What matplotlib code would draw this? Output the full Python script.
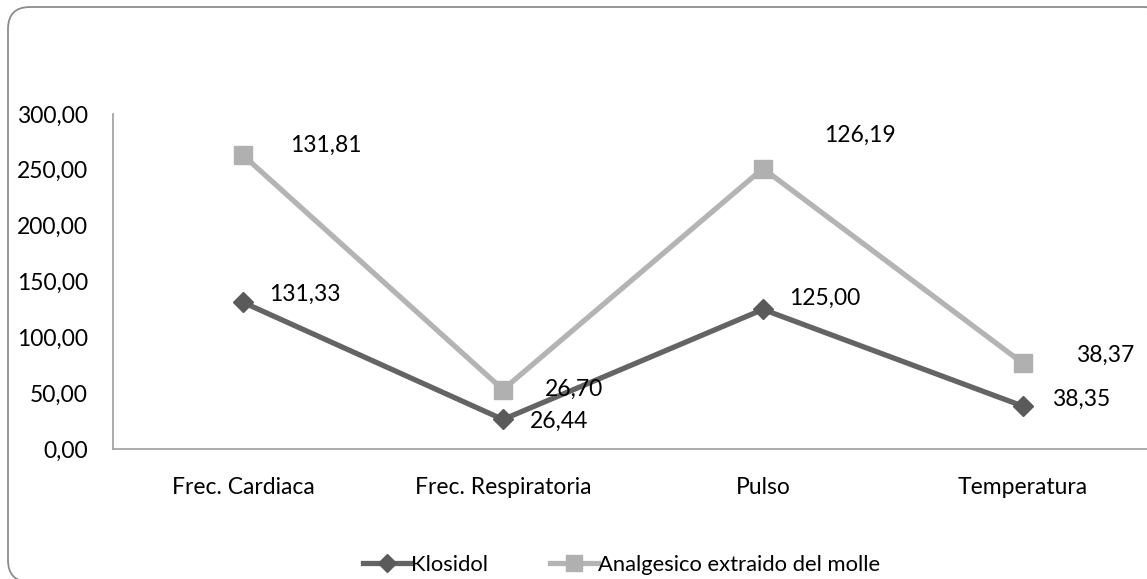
import matplotlib
matplotlib.use("Agg")
import matplotlib.pyplot as plt
from matplotlib.patches import FancyBboxPatch
from matplotlib.transforms import IdentityTransform
from matplotlib.ticker import FuncFormatter

plt.rcParams['font.family'] = ['Lato', 'DejaVu Sans']

# datos
categorias = ["Frec. Cardiaca", "Frec. Respiratoria", "Pulso", "Temperatura"]
klosidol = [131.33, 26.44, 125.00, 38.35]
analgesico = [131.81, 26.70, 126.19, 38.37]
serie1 = "Klosidol"
serie2 = "Analgesico extraido del molle"

# linea apilada (como en Excel)
apilado = [a + b for a, b in zip(klosidol, analgesico)]

def coma(v, pos=None):
    return ("%.2f" % v).replace(".", ",")

fs = 16.5
fig = plt.figure(figsize=(11.47, 5.79), dpi=100)
ax = fig.add_axes([113/1147, 1 - 449/579, 1040/1147, 335/579])

x = list(range(len(categorias)))
ax.plot(x, klosidol, color="#646464", lw=3.8, marker="D", ms=10,
        mfc="#5a5a5a", mec="#5a5a5a", label=serie1, zorder=3)
ax.plot(x, apilado, color="#b4b4b4", lw=3.8, marker="s", ms=13,
        mfc="#b0b0b0", mec="#b0b0b0", label=serie2, zorder=3)

ax.set_xlim(-0.5, len(categorias) - 0.5)
ax.set_ylim(0, 300)
ax.set_yticks([0, 50, 100, 150, 200, 250, 300])
ax.yaxis.set_major_formatter(FuncFormatter(coma))
ax.set_xticks(x)
ax.set_xticklabels(categorias)
ax.tick_params(axis="y", length=0, pad=18, labelsize=fs)
ax.tick_params(axis="x", length=0, pad=20, labelsize=fs)
for s in ["top", "right"]:
    ax.spines[s].set_visible(False)
for s in ["left", "bottom"]:
    ax.spines[s].set_color("#a6a6a6")
    ax.spines[s].set_linewidth(1.3)

# etiquetas de datos (desplazamientos en puntos)
off1 = [(19, 6), (19, -1), (19, 8), (21, 5)]
off2 = [(34, 7), (30, 0), (44, 24), (38, 6)]
for i in x:
    ax.annotate(coma(klosidol[i]), (i, klosidol[i]), xytext=off1[i],
                textcoords="offset points", ha="left", va="center", fontsize=fs)
    ax.annotate(coma(analgesico[i]), (i, apilado[i]), xytext=off2[i],
                textcoords="offset points", ha="left", va="center", fontsize=fs)

fig.legend(loc="center", bbox_to_anchor=(0.542, 1 - 565/579), ncol=2,
           frameon=False, fontsize=15.8, handlelength=2.2, columnspacing=2.8,
           handletextpad=0.0, markerscale=0.9)

# borde redondeado del grafico
caja = FancyBboxPatch((8, -3), 1160, 575,
                      boxstyle="round,pad=0,rounding_size=22",
                      transform=IdentityTransform(), fill=False,
                      edgecolor="#8c8c8c", lw=1.3)
fig.patches.append(caja)

fig.savefig("out.png", dpi=100)
